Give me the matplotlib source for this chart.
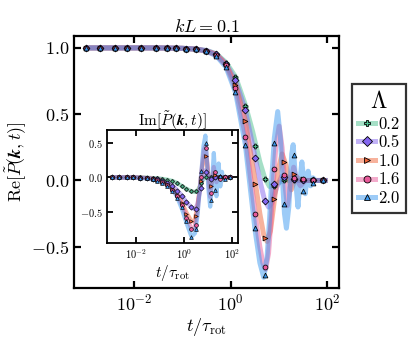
import numpy as np
import matplotlib
matplotlib.use("Agg")
import matplotlib.pyplot as plt

plt.rcParams["font.family"] = "serif"
plt.rcParams["font.serif"] = ["cmr10"]
plt.rcParams["mathtext.fontset"] = "cm"
plt.rcParams["axes.formatter.use_mathtext"] = True

LAMBDAS = ["0.2", "0.5", "1.0", "1.6", "2.0"]
COLORS = ["#4cc08f", "#8466ef", "#f0663a", "#e85a9a", "#3a98f0"]
MARKERS = ["P", "D", ">", "o", "^"]

# sample times of the markers (log10 t / tau_rot)
marker_logt = [-3.0, -2.7, -2.4, -2.15, -1.85, -1.55, -1.32, -1.13, -0.93, -0.72, -0.52, -0.31,
               -0.11, 0.09, 0.29, 0.5, 0.7, 0.9, 1.1, 1.3, 1.5, 1.7, 1.9]

# --- real part, markers ---
re_pts_green = [1, 1, 1, 1, 1, 1, 1, 1, 0.995, 0.99, 0.98, 0.955, 0.885, 0.78, 0.56, 0.26, 0.01, -0.04, 0.0, 0.0, 0.0, 0.0, 0.0]
re_pts_purple = [1, 1, 1, 1, 1, 1, 1, 1, 0.995, 0.99, 0.98, 0.952, 0.88, 0.76, 0.53, 0.17, -0.155, -0.03, 0.03, 0.01, 0.0, 0.0, 0.0]
re_pts_orange = [1, 1, 1, 1, 1, 1, 1, 1, 0.995, 0.99, 0.977, 0.95, 0.875, 0.72, 0.45, -0.03, -0.435, -0.14, 0.14, 0.05, 0.01, 0.0, 0.0]
re_pts_pink = [1, 1, 1, 1, 1, 1, 1, 1, 0.995, 0.99, 0.976, 0.945, 0.87, 0.70, 0.33, -0.25, -0.65, 0.09, 0.04, 0.02, 0.01, 0.0, 0.0]
re_pts_blue = [1, 1, 1, 1, 1, 1, 1, 1, 0.995, 0.99, 0.975, 0.94, 0.856, 0.67, 0.27, -0.36, -0.71, 0.28, -0.18, 0.19, -0.08, -0.02, 0.0]

# --- real part, curves ---
re_logt_green = [-3.0, -1.5, -1.0, -0.7, -0.5, -0.3, -0.1, 0.1, 0.3, 0.45, 0.6, 0.7, 0.8, 0.9, 1.0, 1.1, 2.0]
re_green = [1.0, 1.0, 0.997, 0.99, 0.98, 0.955, 0.89, 0.78, 0.57, 0.37, 0.14, 0.02, -0.045, -0.04, -0.015, 0.0, 0.0]
re_logt_purple = [-3.0, -1.5, -1.0, -0.7, -0.5, -0.3, -0.1, 0.1, 0.3, 0.5, 0.6, 0.7, 0.78, 0.85, 0.95, 1.05, 1.15, 1.3, 2.0]
re_purple = [1.0, 1.0, 0.997, 0.99, 0.98, 0.953, 0.88, 0.75, 0.53, 0.18, 0.0, -0.15, -0.2, -0.17, -0.05, 0.03, 0.03, 0.0, 0.0]
re_logt_orange = [-3.0, -1.5, -1.0, -0.7, -0.5, -0.3, -0.1, 0.1, 0.3, 0.5, 0.6, 0.68, 0.75, 0.82, 0.9, 0.98, 1.06, 1.14,
                  1.25, 1.35, 1.45, 2.0]
re_orange = [1.0, 1.0, 0.997, 0.99, 0.975, 0.95, 0.875, 0.72, 0.45, 0.0, -0.25, -0.41, -0.46, -0.38, -0.15, 0.08, 0.2, 0.12,
             -0.07, 0.03, 0.0, 0.0]
re_logt_pink = [-3.0, -1.5, -1.0, -0.7, -0.5, -0.3, -0.1, 0.1, 0.3, 0.5, 0.6, 0.66, 0.72, 0.78, 0.83, 0.88, 0.93, 1.0,
                1.06, 1.11, 1.17, 1.23, 1.3, 1.37, 1.44, 1.55, 2.0]
re_pink = [1.0, 1.0, 0.997, 0.99, 0.975, 0.945, 0.87, 0.69, 0.34, -0.25, -0.5, -0.62, -0.67, -0.55, -0.3, 0.0, 0.25, 0.41,
           0.25, 0.0, -0.19, -0.05, 0.1, 0.0, -0.04, 0.0, 0.0]
re_logt_blue = [-3.0, -1.5, -1.0, -0.7, -0.5, -0.3, -0.1, 0.1, 0.3, 0.5, 0.6, 0.68, 0.75, 0.8, 0.845, 0.9, 0.97, 1.03,
                1.07, 1.11, 1.15, 1.2, 1.23, 1.26, 1.29, 1.34, 1.39, 1.43, 1.47, 1.51, 1.54, 1.57, 1.6, 1.63, 1.65,
                1.68, 1.7, 1.75, 2.0]
re_blue = [1.0, 1.0, 0.997, 0.99, 0.975, 0.94, 0.855, 0.66, 0.27, -0.37, -0.62, -0.73, -0.58, -0.3, 0.0, 0.32, 0.52, 0.3,
           0.0, -0.25, -0.36, -0.2, 0.0, 0.2, 0.27, 0.0, -0.2, 0.0, 0.14, 0.0, -0.1, 0.0, 0.07, 0.0, -0.04,
           0.0, 0.02, 0.0, 0.0]

# --- imaginary part, markers ---
im_pts_green = [0, 0, 0, 0, 0, -0.005, -0.01, -0.015, -0.025, -0.035, -0.055, -0.085, -0.13, -0.165, -0.2, -0.2, -0.08, 0.01, 0, 0, 0, 0, 0]
im_pts_purple = [0, 0, 0, 0, -0.005, -0.01, -0.02, -0.03, -0.05, -0.08, -0.12, -0.19, -0.27, -0.36, -0.43, -0.45, -0.15, 0.08, -0.02, 0, 0, 0, 0]
im_pts_orange = [0, 0, 0, 0, -0.005, -0.01, -0.02, -0.035, -0.06, -0.1, -0.16, -0.25, -0.37, -0.52, -0.63, -0.55, -0.05, 0.3, -0.12, 0.04, 0, 0, 0]
im_pts_pink = [0, 0, 0, 0, -0.005, -0.012, -0.025, -0.04, -0.07, -0.11, -0.18, -0.27, -0.4, -0.58, -0.74, -0.68, 0.0, 0.42, -0.22, 0.08, -0.02, 0, 0]
im_pts_blue = [0, 0, 0, 0, -0.005, -0.015, -0.03, -0.05, -0.08, -0.13, -0.2, -0.29, -0.43, -0.62, -0.85, -0.74, 0.09, 0.5, -0.32, -0.18, 0.02, -0.02, 0]

# --- imaginary part, curves ---
im_logt_green = [-3.0, -2.0, -1.5, -1.0, -0.7, -0.5, -0.3, -0.1, 0.1, 0.3, 0.45, 0.55, 0.65, 0.75, 0.85, 0.95, 1.1, 2.0]
im_green = [0, 0, -0.005, -0.017, -0.033, -0.05, -0.08, -0.125, -0.165, -0.2, -0.21, -0.19, -0.13, -0.05, 0.0, 0.02, 0, 0]
im_logt_purple = [-3.0, -2.0, -1.5, -1.0, -0.7, -0.5, -0.3, -0.1, 0.1, 0.3, 0.45, 0.55, 0.65, 0.75, 0.85, 0.95, 1.05, 1.2, 2.0]
im_purple = [0, -0.002, -0.01, -0.03, -0.075, -0.115, -0.18, -0.26, -0.36, -0.43, -0.46, -0.38, -0.2, 0.0, 0.1, 0.06, -0.02, 0, 0]
im_logt_orange = [-3.0, -2.0, -1.5, -1.0, -0.7, -0.5, -0.3, -0.1, 0.1, 0.3, 0.42, 0.55, 0.65, 0.75, 0.85, 0.92, 1.0, 1.08,
                  1.16, 1.23, 1.32, 1.45, 2.0]
im_orange = [0, -0.002, -0.01, -0.035, -0.09, -0.15, -0.24, -0.36, -0.51, -0.63, -0.63, -0.42, -0.13, 0.15, 0.31, 0.3, 0.05,
             -0.15, -0.05, 0.07, 0, 0, 0]
im_logt_pink = [-3.0, -2.0, -1.5, -1.0, -0.7, -0.5, -0.3, -0.1, 0.1, 0.3, 0.42, 0.55, 0.65, 0.75, 0.82, 0.89, 0.96, 1.02,
                1.08, 1.15, 1.23, 1.29, 1.34, 1.4, 1.5, 2.0]
im_pink = [0, -0.003, -0.012, -0.04, -0.1, -0.17, -0.26, -0.39, -0.57, -0.74, -0.73, -0.5, -0.15, 0.2, 0.4, 0.45, 0.2, -0.1,
           -0.28, -0.05, 0.15, 0, -0.07, 0, 0, 0]
im_logt_blue = [-3.0, -2.0, -1.5, -1.0, -0.7, -0.5, -0.3, -0.1, 0.1, 0.3, 0.45, 0.55, 0.65, 0.72, 0.8, 0.88, 0.95, 1.0,
                1.08, 1.15, 1.23, 1.29, 1.34, 1.39, 1.43, 1.47, 1.5, 1.54, 1.57, 1.6, 1.63, 1.7, 2.0]
im_blue = [0, -0.004, -0.015, -0.05, -0.1, -0.16, -0.28, -0.45, -0.66, -0.85, -0.8, -0.55, -0.15, 0.1, 0.45, 0.6, 0.2,
           -0.15, -0.42, -0.1, 0.35, 0.0, -0.27, 0.0, 0.2, 0.0, -0.13, 0.0, 0.08, 0.0, -0.04, 0.0, 0.0]

re_curves = [(re_logt_green, re_green), (re_logt_purple, re_purple), (re_logt_orange, re_orange),
             (re_logt_pink, re_pink), (re_logt_blue, re_blue)]
re_points = [re_pts_green, re_pts_purple, re_pts_orange, re_pts_pink, re_pts_blue]
im_curves = [(im_logt_green, im_green), (im_logt_purple, im_purple), (im_logt_orange, im_orange),
             (im_logt_pink, im_pink), (im_logt_blue, im_blue)]
im_points = [im_pts_green, im_pts_purple, im_pts_orange, im_pts_pink, im_pts_blue]


def style_axes(ax, lw, length, labelsize):
    for sp in ax.spines.values():
        sp.set_linewidth(lw)
    ax.tick_params(which="major", direction="in", top=True, right=True,
                   length=length, width=lw, labelsize=labelsize)
    ax.tick_params(which="minor", length=0)


def draw(ax, curves, points, lw, ms, mew):
    t_pts = 10 ** np.array(marker_logt)
    for (lt, vals), c in zip(curves, COLORS):
        ax.plot(10 ** np.array(lt), vals, color=c, lw=lw, alpha=0.5, solid_capstyle="butt", zorder=2)
    for vals, c, m in zip(points, COLORS, MARKERS):
        ax.plot(t_pts, vals, ls="none", marker=m, ms=ms, mfc=c, mec="black", mew=mew, zorder=3)


fig = plt.figure(figsize=(4.15, 3.46), dpi=100)
ax = fig.add_axes([0.178, 0.168, 0.639, 0.728])
draw(ax, re_curves, re_points, 3.6, 3.5, 0.55)
ax.set_xscale("log")
ax.set_xlim(10 ** -3.25, 10 ** 2.24)
ax.set_ylim(-0.81, 1.09)
ax.set_xticks([1e-2, 1e0, 1e2])
ax.set_yticks([-0.5, 0.0, 0.5, 1.0])
style_axes(ax, 1.6, 5, 13)
ax.set_xlabel(r"$t/\tau_{\mathrm{rot}}$", fontsize=13, labelpad=2)
ax.set_ylabel(r"$\mathrm{Re}[\tilde{P}(\boldsymbol{k},t)]$", fontsize=13, labelpad=2)
ax.set_title(r"$kL=0.1$", fontsize=13, pad=3)

ins = fig.add_axes([0.2586, 0.2986, 0.3157, 0.3257])
draw(ins, im_curves, im_points, 3.0, 2.7, 0.45)
ins.set_xscale("log")
ins.set_xlim(10 ** -3.2, 10 ** 2.25)
ins.set_ylim(-0.937, 0.68)
ins.set_xticks([1e-2, 1e0, 1e2])
ins.set_yticks([-0.5, 0.0, 0.5])
style_axes(ins, 1.3, 4, 7.5)
ins.set_xlabel(r"$t/\tau_{\mathrm{rot}}$", fontsize=11, labelpad=1)
ins.set_title(r"$\mathrm{Im}[\tilde{P}(\boldsymbol{k},t)]$", fontsize=11, pad=3)

handles = []
for c, m in zip(COLORS, MARKERS):
    h = plt.Line2D([], [], color=c, lw=3.6, alpha=0.5)
    p = plt.Line2D([], [], ls="none", marker=m, ms=5, mfc=c, mec="black", mew=0.6)
    handles.append((h, p))
leg = fig.legend(handles, LAMBDAS,
                 loc="upper left", bbox_to_anchor=(0.847, 0.757), title=r"$\Lambda$",
                 fontsize=12, title_fontsize=17, frameon=True, fancybox=False,
                 handlelength=1.0, handletextpad=0.2, borderpad=0.4, labelspacing=0.2,
                 borderaxespad=0)
leg.get_frame().set_edgecolor("black")
leg.get_frame().set_linewidth(1.6)

fig.savefig("out.png", dpi=100)
